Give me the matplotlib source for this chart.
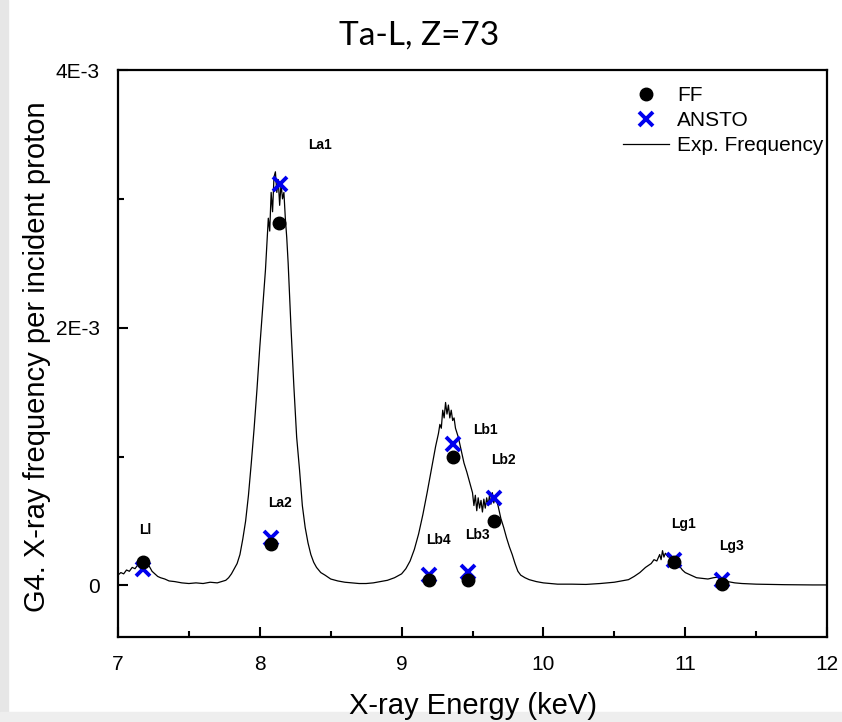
import matplotlib
matplotlib.use("Agg")
import matplotlib.pyplot as plt
from matplotlib.patches import Rectangle
from matplotlib.ticker import MultipleLocator, FixedLocator

plt.rcParams['font.family'] = ['Liberation Sans', 'DejaVu Sans']

# measured spectrum (keV, frequency in units of 1E-3)
energy = [7.00, 7.02, 7.04, 7.06, 7.08, 7.10, 7.12, 7.14, 7.16, 7.18, 7.20, 7.22, 7.24,
          7.26, 7.28, 7.30, 7.33, 7.36, 7.40, 7.45, 7.50, 7.55, 7.60, 7.65, 7.70, 7.73,
          7.76, 7.78, 7.80, 7.82, 7.84, 7.86, 7.88, 7.90, 7.92, 7.94, 7.96, 7.98, 8.00,
          8.02, 8.04, 8.06, 8.07, 8.08, 8.09, 8.10, 8.11, 8.12, 8.13, 8.14, 8.15, 8.16,
          8.17, 8.18, 8.19, 8.20, 8.22, 8.24, 8.26, 8.28, 8.30, 8.32, 8.34, 8.36, 8.38,
          8.40, 8.43, 8.46, 8.50, 8.55, 8.60, 8.65, 8.70, 8.75, 8.80, 8.85, 8.90, 8.95,
          9.00, 9.03, 9.06, 9.09, 9.12, 9.15, 9.18, 9.21, 9.24, 9.26, 9.27, 9.28, 9.29,
          9.30, 9.31, 9.32, 9.33, 9.34, 9.35, 9.36, 9.37, 9.38, 9.40, 9.42, 9.44, 9.46,
          9.48, 9.50, 9.51, 9.52, 9.53, 9.54, 9.55, 9.56, 9.57, 9.58, 9.59, 9.60, 9.61,
          9.62, 9.63, 9.64, 9.65, 9.66, 9.68, 9.70, 9.72, 9.74, 9.76, 9.78, 9.80, 9.82,
          9.84, 9.87, 9.90, 9.95, 10.00, 10.05, 10.10, 10.20, 10.30, 10.40, 10.45, 10.50,
          10.55, 10.60, 10.64, 10.68, 10.72, 10.76, 10.78, 10.80, 10.82, 10.83, 10.84,
          10.85, 10.86, 10.88, 10.90, 10.92, 10.94, 10.96, 10.98, 11.00, 11.04, 11.08,
          11.12, 11.16, 11.20, 11.23, 11.26, 11.30, 11.35, 11.40, 11.50, 11.60, 11.70,
          11.80, 11.90, 12.00]
freq = [0.08, 0.10, 0.09, 0.12, 0.11, 0.14, 0.13, 0.16, 0.17, 0.19, 0.16, 0.15, 0.11,
        0.09, 0.07, 0.06, 0.05, 0.035, 0.03, 0.02, 0.015, 0.02, 0.015, 0.025, 0.02, 0.03,
        0.04, 0.06, 0.09, 0.13, 0.17, 0.24, 0.36, 0.50, 0.70, 0.95, 1.22, 1.52, 1.85,
        2.15, 2.45, 2.85, 2.75, 3.05, 2.90, 3.17, 3.21, 3.05, 3.15, 2.95, 3.12, 3.00,
        3.05, 2.85, 2.70, 2.50, 2.00, 1.55, 1.15, 0.90, 0.62, 0.45, 0.33, 0.24, 0.18,
        0.14, 0.10, 0.08, 0.05, 0.035, 0.025, 0.02, 0.015, 0.015, 0.02, 0.03, 0.04, 0.06,
        0.09, 0.13, 0.19, 0.28, 0.40, 0.55, 0.72, 0.90, 1.08, 1.18, 1.25, 1.22, 1.36,
        1.30, 1.42, 1.33, 1.40, 1.30, 1.36, 1.28, 1.30, 1.22, 1.15, 1.05, 0.95, 0.88,
        0.80, 0.72, 0.62, 0.70, 0.58, 0.68, 0.60, 0.66, 0.57, 0.67, 0.60, 0.68, 0.62,
        0.70, 0.63, 0.72, 0.64, 0.69, 0.62, 0.52, 0.45, 0.37, 0.30, 0.24, 0.17, 0.11,
        0.08, 0.06, 0.045, 0.03, 0.02, 0.015, 0.01, 0.01, 0.008, 0.015, 0.02, 0.025,
        0.035, 0.045, 0.07, 0.10, 0.14, 0.17, 0.20, 0.19, 0.24, 0.20, 0.27,
        0.22, 0.25, 0.22, 0.23, 0.20, 0.18, 0.15, 0.12, 0.10, 0.08, 0.06,
        0.055, 0.05, 0.06, 0.065, 0.05, 0.03, 0.02, 0.015, 0.01, 0.008, 0.006,
        0.005, 0.004, 0.004]

lines = ['Ll', 'La2', 'La1', 'Lb4', 'Lb1', 'Lb3', 'Lb2', 'Lg1', 'Lg3']
ff_x = [7.179, 8.077, 8.138, 9.195, 9.360, 9.471, 9.652, 10.921, 11.257]
ff_y = [0.181, 0.324, 2.815, 0.039, 0.999, 0.044, 0.500, 0.181, 0.008]
ansto_x = [7.179, 8.077, 8.142, 9.195, 9.360, 9.471, 9.652, 10.921, 11.257]
ansto_y = [0.130, 0.366, 3.118, 0.078, 1.097, 0.104, 0.682, 0.194, 0.039]
label_x = [7.19, 8.14, 8.425, 9.257, 9.588, 9.535, 9.715, 10.985, 11.323]
label_y = [0.43, 0.64, 3.42, 0.35, 1.206, 0.389, 0.973, 0.48, 0.31]

s = 1e-3
fig = plt.figure(figsize=(8.42, 7.22), dpi=100)
fig.patches.append(Rectangle((0, 0), 8 / 842, 1, transform=fig.transFigure,
                             color='#e6e6e6', zorder=0))
fig.patches.append(Rectangle((0, 0), 1, 10 / 722, transform=fig.transFigure,
                             color='#eeeeee', zorder=0))
ax = fig.add_axes([118 / 842, 85 / 722, 709 / 842, 567 / 722])

ln, = ax.plot(energy, [v * s for v in freq], color='black', lw=0.9, zorder=2)
an, = ax.plot(ansto_x, [v * s for v in ansto_y], ls='none', marker='x', ms=10,
              mew=2.8, color='#0000ee', zorder=3)
ff, = ax.plot(ff_x, [v * s for v in ff_y], ls='none', marker='o', ms=9,
              color='black', zorder=4)

for name, lx, ly in zip(lines, label_x, label_y):
    ax.text(lx, ly * s, name, ha='center', va='center', fontsize=10, fontweight='bold')

ax.set_xlim(7, 12)
ax.set_ylim(-0.0004, 0.004)
ax.xaxis.set_major_locator(MultipleLocator(1))
ax.xaxis.set_minor_locator(MultipleLocator(0.5))
ax.yaxis.set_major_locator(FixedLocator([0, 0.002, 0.004]))
ax.yaxis.set_minor_locator(FixedLocator([0.001, 0.003]))
ax.set_yticklabels(['0', '2E-3', '4E-3'])
ax.tick_params(which='both', direction='in', width=1.5, labelsize=15, pad=13)
ax.tick_params(which='major', length=7)
ax.tick_params(which='minor', length=4)
for sp in ax.spines.values():
    sp.set_linewidth(1.6)

ax.legend([ff, an, ln], ['FF', 'ANSTO', 'Exp. Frequency'], loc='upper right',
          bbox_to_anchor=(0.995, 0.972), frameon=False, fontsize=15,
          borderaxespad=0, borderpad=0, labelspacing=0.3, handlelength=2.2,
          handletextpad=0.4)

fig.text(419 / 842, 677 / 722, 'Ta-L, Z=73', ha='center', va='baseline',
         fontsize=24, family=['Lato', 'DejaVu Sans'])
fig.text(37 / 842, 365 / 722, 'G4. X-ray frequency per incident proton',
         rotation=90, ha='center', va='center', fontsize=21)
fig.text(473 / 842, 16 / 722, 'X-ray Energy (keV)', ha='center', va='center',
         fontsize=21)

fig.savefig('out.png', dpi=100)
